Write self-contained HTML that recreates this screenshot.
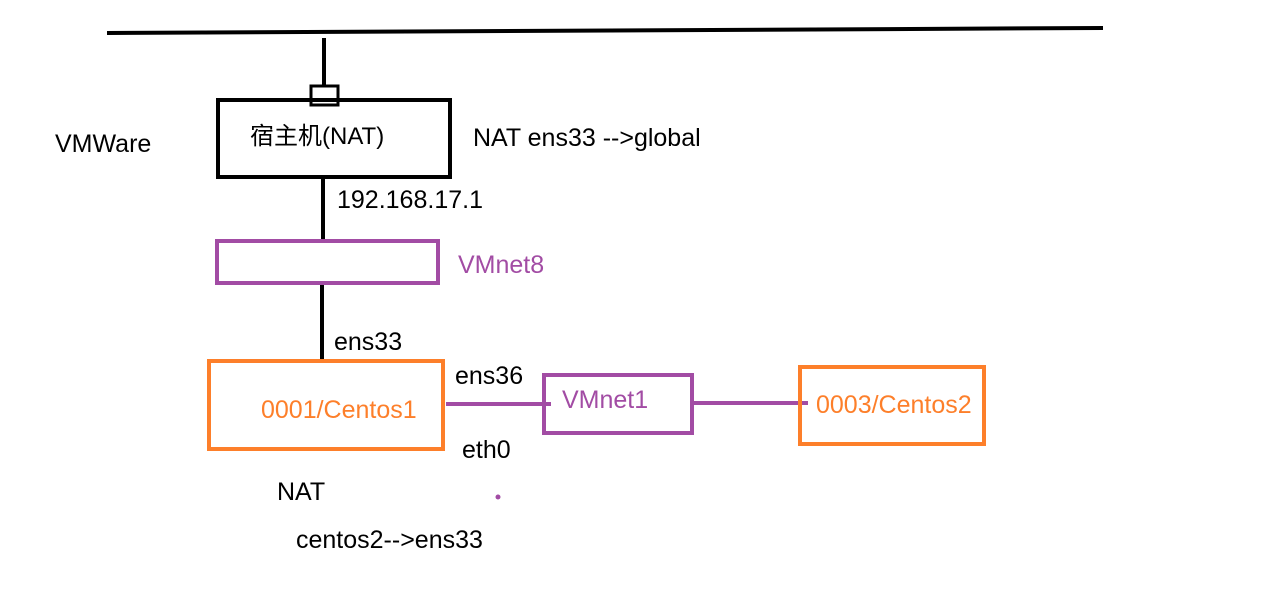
<!DOCTYPE html>
<html><head><meta charset="utf-8"><style>
html,body{margin:0;padding:0;background:#fff;width:1262px;height:589px;overflow:hidden}
text{font-family:"Liberation Sans","Noto Sans CJK SC",sans-serif;font-size:25px}
</style></head><body>
<svg width="1262" height="589" xmlns="http://www.w3.org/2000/svg">
<g fill="none" stroke="#000" stroke-width="4">
<line x1="107" y1="33" x2="1103" y2="28"/>
<line x1="324" y1="38" x2="324" y2="86"/>
<rect x="311" y="86" width="27" height="19" stroke-width="3"/>
<rect x="218" y="100" width="232" height="77"/>
<line x1="323" y1="177" x2="323" y2="239"/>
<line x1="322" y1="283" x2="322" y2="360"/>
</g>
<g fill="none" stroke="#a24ca4" stroke-width="4">
<rect x="217" y="241" width="221" height="42"/>
<line x1="446" y1="404" x2="551" y2="404"/>
<rect x="544" y="375" width="148" height="58"/>
<line x1="693" y1="403" x2="808" y2="403"/>
</g>
<circle cx="498" cy="497" r="2.5" fill="#a24ca4"/>
<g fill="none" stroke="#fd7f2a" stroke-width="4">
<rect x="209" y="361" width="234" height="88"/>
<rect x="800" y="367" width="184" height="77"/>
</g>
<text x="55" y="152">VMWare</text>
<text x="250" y="144" font-size="24" style="font-size:24px">宿主机(NAT)</text>
<text x="473" y="146">NAT ens33 --&gt;global</text>
<text x="337" y="208">192.168.17.1</text>
<text x="458" y="273" fill="#a24ca4">VMnet8</text>
<text x="334" y="350">ens33</text>
<text x="455" y="384">ens36</text>
<text x="261" y="418" fill="#fd7f2a">0001/Centos1</text>
<text x="562" y="408" fill="#a24ca4">VMnet1</text>
<text x="816" y="413" fill="#fd7f2a">0003/Centos2</text>
<text x="462" y="458">eth0</text>
<text x="277" y="500">NAT</text>
<text x="296" y="548">centos2--&gt;ens33</text>
</svg>
</body></html>
